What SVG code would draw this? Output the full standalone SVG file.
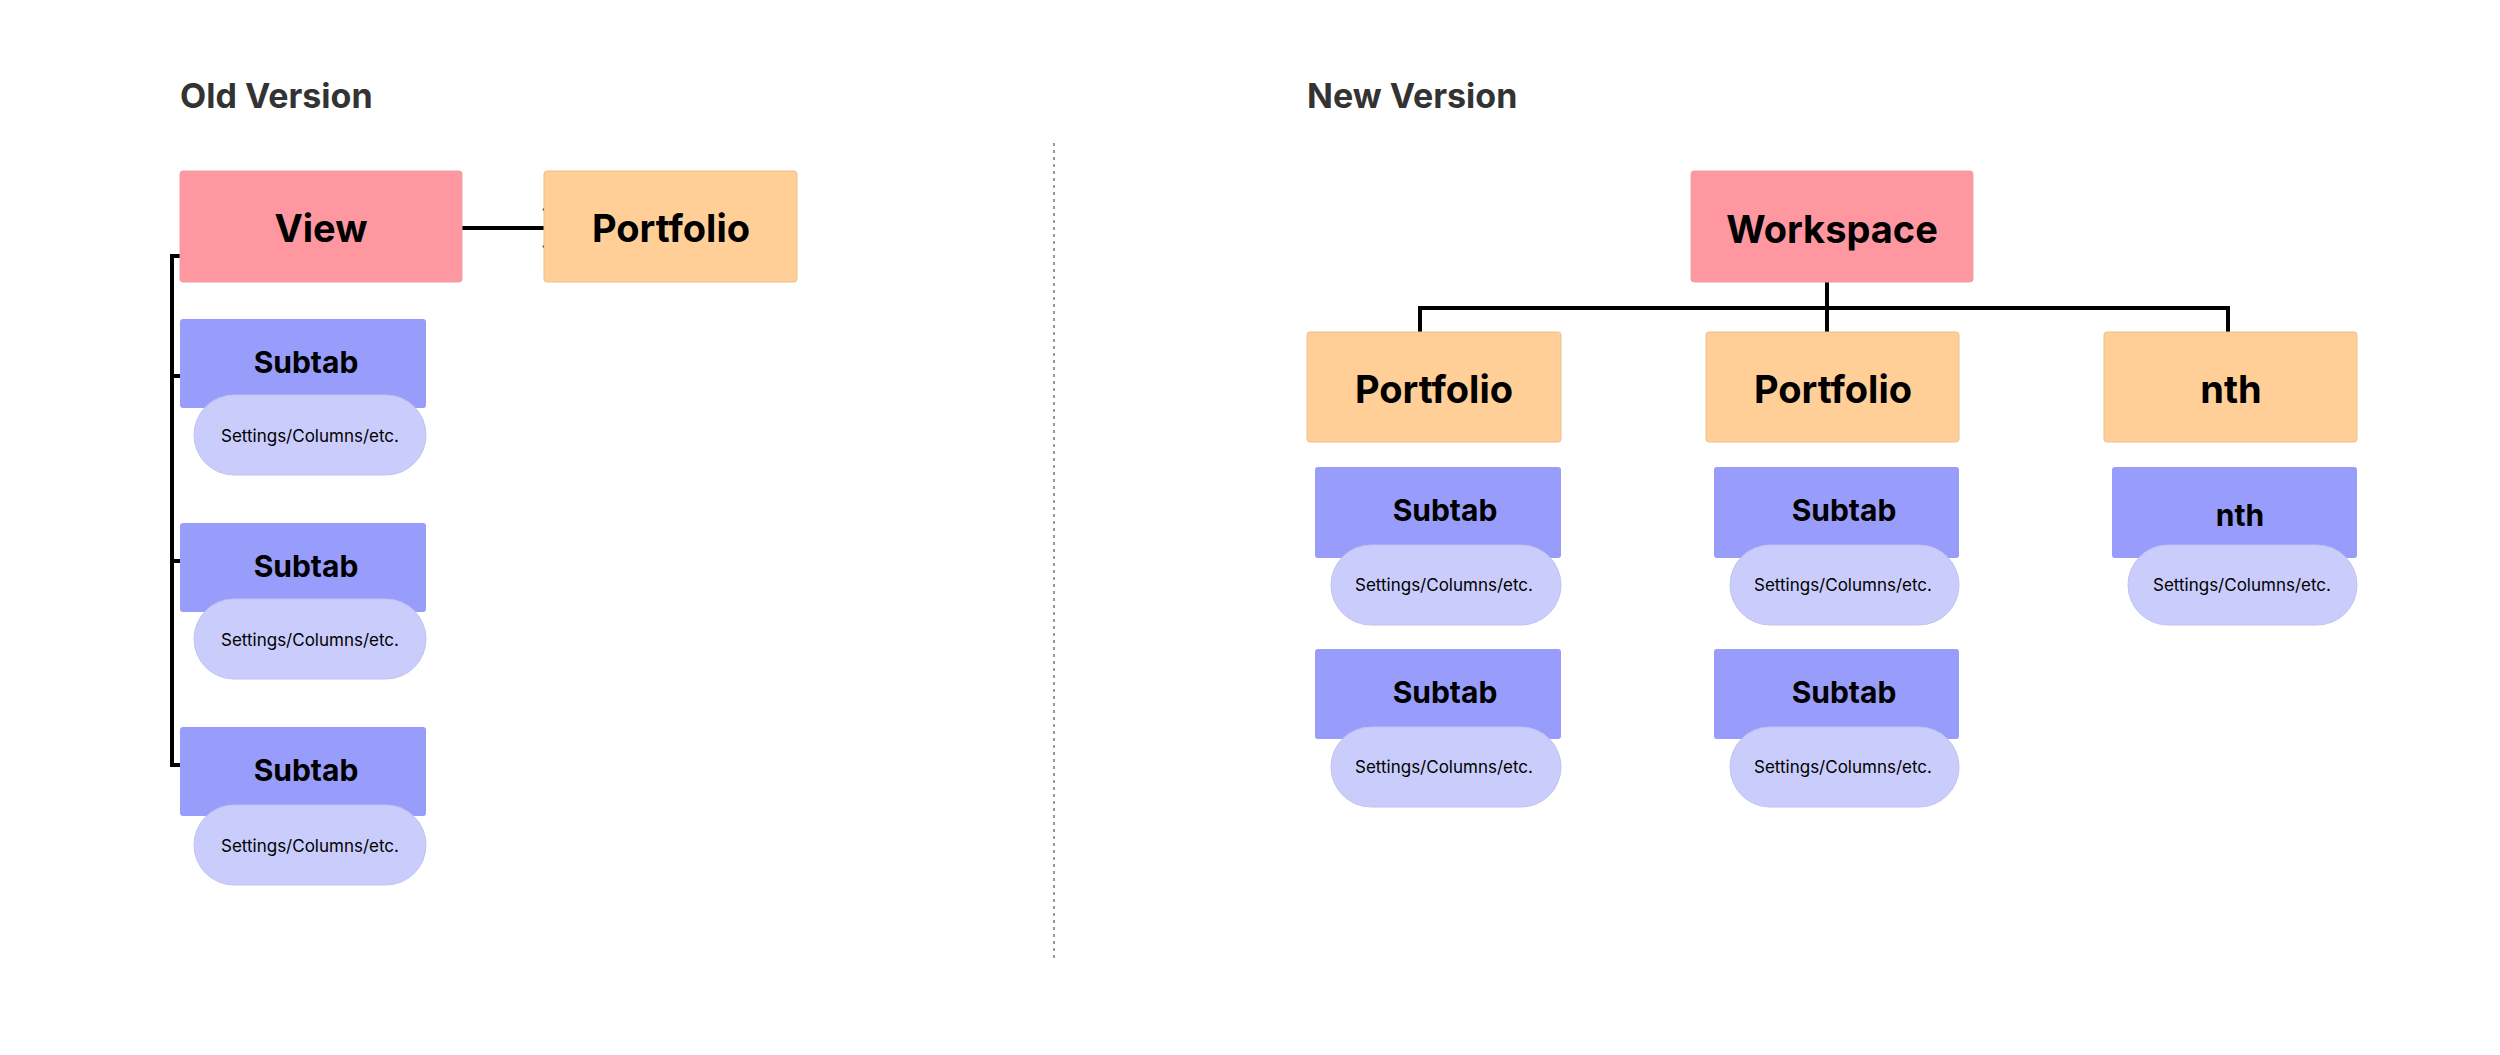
<svg xmlns="http://www.w3.org/2000/svg" width="2500" height="1055" viewBox="0 0 2500 1055">
<style>
text{font-family:Inter,"Liberation Sans",sans-serif;text-anchor:middle;dominant-baseline:central;fill:#000}
.h{font-size:34px;font-weight:700;fill:#333;text-anchor:start}
.big{font-size:38px;font-weight:700}
.sub{font-size:30px;font-weight:700}
.sm{font-size:17px}
.pink{fill:#FF97A1;stroke:#e8a0a8;stroke-width:1}
.org{fill:#FFCF97;stroke:#e9c18c;stroke-width:1}
.st{fill:#989CFA}
.pill{fill:#CACDFC;stroke:#c0c3f0;stroke-width:1}
.ln{stroke:#000;stroke-width:4;fill:none}
</style>
<text class="h" x="180" y="95">Old Version</text>
<text class="h" x="1307" y="95">New Version</text>
<line x1="1054" y1="143" x2="1054" y2="960" stroke="#999" stroke-width="2" stroke-dasharray="3,4"/>
<g id="connectors">
<path class="ln" d="M462 228 H558 M544 208 L560 228 L544 248"/>
<path class="ln" d="M180 256 H172 V765 H180 M172 376 H180 M172 561 H180"/>
<path class="ln" d="M1827 282 V332 M1420 332 V308 H2228 V332"/>
</g>
<g id="view"><rect class="pink" x="180" y="171" width="282" height="111" rx="3"/><text class="big" x="321" y="228">View</text></g>
<g id="portfolio-old"><rect class="org" x="544" y="171" width="253" height="111" rx="3"/><text class="big" x="671" y="228">Portfolio</text></g>
<g id="old-sub1"><rect class="st" x="180" y="319" width="246" height="89" rx="3"/><text class="sub" x="306" y="362">Subtab</text>
<rect class="pill" x="194" y="395" width="232" height="80" rx="40"/><text class="sm" x="310" y="436">Settings/Columns/etc.</text></g>
<g id="old-sub2"><rect class="st" x="180" y="523" width="246" height="89" rx="3"/><text class="sub" x="306" y="566">Subtab</text>
<rect class="pill" x="194" y="599" width="232" height="80" rx="40"/><text class="sm" x="310" y="640">Settings/Columns/etc.</text></g>
<g id="old-sub3"><rect class="st" x="180" y="727" width="246" height="89" rx="3"/><text class="sub" x="306" y="770">Subtab</text>
<rect class="pill" x="194" y="805" width="232" height="80" rx="40"/><text class="sm" x="310" y="846">Settings/Columns/etc.</text></g>

<g id="workspace"><rect class="pink" x="1691" y="171" width="282" height="111" rx="3"/><text class="big" x="1832" y="229">Workspace</text></g>
<g id="portfolio1"><rect class="org" x="1307" y="332" width="254" height="110" rx="3"/><text class="big" x="1434" y="389">Portfolio</text></g>
<g id="portfolio2"><rect class="org" x="1706" y="332" width="253" height="110" rx="3"/><text class="big" x="1833" y="389">Portfolio</text></g>
<g id="nth"><rect class="org" x="2104" y="332" width="253" height="110" rx="3"/><text class="big" x="2231" y="389">nth</text></g>

<g id="p1-sub1"><rect class="st" x="1315" y="467" width="246" height="91" rx="3"/><text class="sub" x="1445" y="510">Subtab</text>
<rect class="pill" x="1331" y="545" width="230" height="80" rx="40"/><text class="sm" x="1444" y="585">Settings/Columns/etc.</text></g>
<g id="p1-sub2"><rect class="st" x="1315" y="649" width="246" height="90" rx="3"/><text class="sub" x="1445" y="692">Subtab</text>
<rect class="pill" x="1331" y="727" width="230" height="80" rx="40"/><text class="sm" x="1444" y="767">Settings/Columns/etc.</text></g>
<g id="p2-sub1"><rect class="st" x="1714" y="467" width="245" height="91" rx="3"/><text class="sub" x="1844" y="510">Subtab</text>
<rect class="pill" x="1730" y="545" width="229" height="80" rx="40"/><text class="sm" x="1843" y="585">Settings/Columns/etc.</text></g>
<g id="p2-sub2"><rect class="st" x="1714" y="649" width="245" height="90" rx="3"/><text class="sub" x="1844" y="692">Subtab</text>
<rect class="pill" x="1730" y="727" width="229" height="80" rx="40"/><text class="sm" x="1843" y="767">Settings/Columns/etc.</text></g>
<g id="nth-sub"><rect class="st" x="2112" y="467" width="245" height="91" rx="3"/><text class="sub" x="2240" y="515">nth</text>
<rect class="pill" x="2128" y="545" width="229" height="80" rx="40"/><text class="sm" x="2242" y="585">Settings/Columns/etc.</text></g>
</svg>
